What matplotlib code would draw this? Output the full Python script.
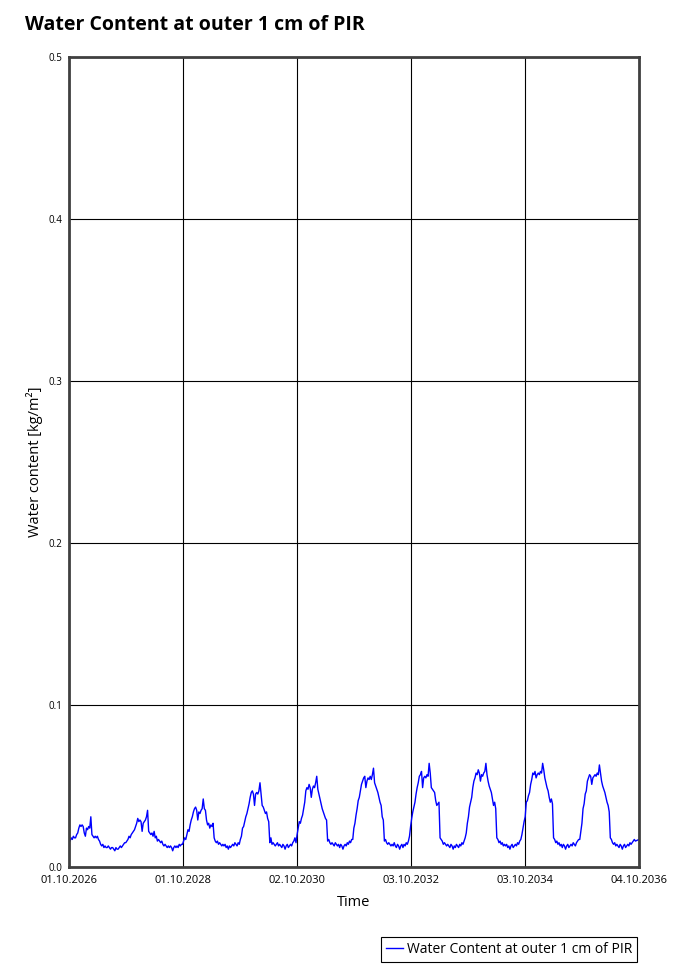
import numpy as np
import pandas as pd
import matplotlib
matplotlib.use("Agg")
import matplotlib.pyplot as plt
import matplotlib.dates as mdates

# weekly water content [kg/m2], one list per season starting 1 Oct
wc_2026 = [0.017, 0.016, 0.018, 0.017, 0.019, 0.018, 0.018, 0.020, 0.021, 0.024, 0.026, 0.025, 0.026,
           0.025, 0.021, 0.019, 0.024, 0.023, 0.025, 0.024, 0.031, 0.020, 0.019, 0.018, 0.019, 0.018,
           0.019, 0.017, 0.016, 0.014, 0.013, 0.014, 0.012, 0.013, 0.012, 0.012, 0.013, 0.012, 0.011,
           0.012, 0.012, 0.011, 0.010, 0.012, 0.011, 0.011, 0.012, 0.013, 0.012, 0.013, 0.014, 0.015]
wc_2027 = [0.015, 0.016, 0.017, 0.019, 0.018, 0.020, 0.021, 0.022, 0.023, 0.025, 0.027, 0.030, 0.028,
           0.029, 0.028, 0.022, 0.027, 0.028, 0.029, 0.031, 0.035, 0.022, 0.021, 0.020, 0.021, 0.019,
           0.022, 0.018, 0.019, 0.016, 0.017, 0.016, 0.015, 0.016, 0.014, 0.013, 0.014, 0.013, 0.012,
           0.013, 0.012, 0.013, 0.012, 0.010, 0.012, 0.013, 0.012, 0.013, 0.012, 0.014, 0.013, 0.014]
wc_2028 = [0.014, 0.016, 0.018, 0.017, 0.020, 0.023, 0.022, 0.026, 0.029, 0.031, 0.034, 0.036, 0.037,
           0.035, 0.029, 0.034, 0.033, 0.035, 0.036, 0.042, 0.036, 0.035, 0.029, 0.026, 0.027, 0.024,
           0.026, 0.025, 0.027, 0.018, 0.016, 0.015, 0.016, 0.014, 0.015, 0.014, 0.013, 0.014, 0.013,
           0.014, 0.012, 0.013, 0.011, 0.013, 0.012, 0.013, 0.014, 0.013, 0.015, 0.014, 0.013, 0.015]
wc_2029 = [0.014, 0.017, 0.019, 0.024, 0.025, 0.028, 0.031, 0.033, 0.036, 0.039, 0.043, 0.046, 0.047,
           0.045, 0.038, 0.045, 0.046, 0.045, 0.047, 0.052, 0.045, 0.038, 0.037, 0.035, 0.033, 0.034,
           0.030, 0.028, 0.015, 0.018, 0.014, 0.015, 0.014, 0.013, 0.014, 0.015, 0.013, 0.014, 0.013,
           0.012, 0.014, 0.013, 0.011, 0.013, 0.014, 0.012, 0.013, 0.014, 0.013, 0.015, 0.016, 0.018]
wc_2030 = [0.015, 0.020, 0.024, 0.028, 0.027, 0.030, 0.032, 0.036, 0.040, 0.047, 0.049, 0.048, 0.051,
           0.049, 0.043, 0.048, 0.050, 0.049, 0.052, 0.056, 0.048, 0.045, 0.042, 0.039, 0.036, 0.034,
           0.032, 0.030, 0.029, 0.016, 0.017, 0.015, 0.014, 0.015, 0.014, 0.013, 0.015, 0.014, 0.013,
           0.014, 0.012, 0.014, 0.013, 0.011, 0.013, 0.014, 0.013, 0.015, 0.014, 0.016, 0.015, 0.017]
wc_2031 = [0.017, 0.024, 0.027, 0.032, 0.036, 0.041, 0.043, 0.047, 0.051, 0.053, 0.055, 0.056, 0.049,
           0.053, 0.055, 0.054, 0.056, 0.054, 0.057, 0.061, 0.052, 0.050, 0.048, 0.046, 0.043, 0.040,
           0.038, 0.031, 0.029, 0.016, 0.017, 0.015, 0.014, 0.015, 0.014, 0.013, 0.014, 0.013, 0.015,
           0.013, 0.012, 0.014, 0.013, 0.011, 0.013, 0.014, 0.012, 0.014, 0.013, 0.015, 0.014, 0.016]
wc_2032 = [0.019, 0.025, 0.030, 0.034, 0.037, 0.040, 0.045, 0.049, 0.052, 0.056, 0.057, 0.059, 0.049,
           0.055, 0.056, 0.055, 0.057, 0.056, 0.064, 0.058, 0.049, 0.048, 0.047, 0.046, 0.041, 0.038,
           0.039, 0.040, 0.018, 0.017, 0.016, 0.014, 0.015, 0.014, 0.013, 0.014, 0.013, 0.012, 0.014,
           0.013, 0.011, 0.013, 0.012, 0.014, 0.013, 0.012, 0.014, 0.013, 0.015, 0.014, 0.016, 0.018]
wc_2033 = [0.021, 0.027, 0.031, 0.037, 0.040, 0.043, 0.049, 0.053, 0.055, 0.058, 0.057, 0.060, 0.058,
           0.053, 0.057, 0.056, 0.058, 0.059, 0.064, 0.057, 0.053, 0.050, 0.048, 0.046, 0.042, 0.038,
           0.040, 0.036, 0.018, 0.017, 0.015, 0.016, 0.014, 0.015, 0.013, 0.014, 0.013, 0.014, 0.012,
           0.013, 0.011, 0.013, 0.014, 0.012, 0.013, 0.014, 0.013, 0.015, 0.014, 0.016, 0.017, 0.020]
wc_2034 = [0.024, 0.028, 0.031, 0.040, 0.041, 0.044, 0.046, 0.051, 0.054, 0.058, 0.057, 0.059, 0.055,
           0.057, 0.058, 0.057, 0.059, 0.058, 0.064, 0.060, 0.055, 0.052, 0.049, 0.047, 0.043, 0.040,
           0.042, 0.039, 0.018, 0.017, 0.015, 0.016, 0.014, 0.015, 0.013, 0.014, 0.012, 0.014, 0.013,
           0.011, 0.013, 0.014, 0.012, 0.013, 0.014, 0.013, 0.015, 0.014, 0.013, 0.015, 0.016, 0.017]
wc_2035 = [0.017, 0.022, 0.027, 0.036, 0.039, 0.045, 0.047, 0.053, 0.055, 0.057, 0.056, 0.051, 0.055,
           0.056, 0.057, 0.056, 0.058, 0.057, 0.063, 0.058, 0.053, 0.050, 0.048, 0.046, 0.043, 0.040,
           0.038, 0.034, 0.018, 0.017, 0.015, 0.014, 0.015, 0.013, 0.014, 0.013, 0.012, 0.014, 0.013,
           0.011, 0.013, 0.014, 0.012, 0.013, 0.014, 0.013, 0.015, 0.014, 0.015, 0.016, 0.017, 0.016]
wc_end = [0.017]

tick_dates = ["2026-10-01", "2028-10-01", "2030-10-02", "2032-10-03", "2034-10-03", "2036-10-04"]
y_ticks = [0.0, 0.1, 0.2, 0.3, 0.4, 0.5]

values = np.array(wc_2026 + wc_2027 + wc_2028 + wc_2029 + wc_2030 +
                  wc_2031 + wc_2032 + wc_2033 + wc_2034 + wc_2035 + wc_end)
dates = pd.date_range("2026-10-01", periods=len(values) - 1, freq="7D")
dates = dates.append(pd.DatetimeIndex([tick_dates[-1]]))

fig = plt.figure(figsize=(6.88, 9.73), dpi=100)
ax = fig.add_axes([69 / 688, 1 - 867 / 973, 570 / 688, 810 / 973])

line, = ax.plot(dates, values, color="#0000ff", linewidth=1.0,
                label="Water Content at outer 1 cm of PIR")

tdates = pd.to_datetime(tick_dates)
ax.set_xlim(tdates[0], tdates[-1])
ax.set_ylim(0, 0.5)
ax.set_xticks(tdates)
ax.xaxis.set_major_formatter(mdates.DateFormatter("%d.%m.%Y"))
ax.set_yticks(y_ticks)
ax.set_yticklabels(["%.1f" % v for v in y_ticks])
ax.grid(True, color="black", linewidth=0.8)
ax.tick_params(axis="both", length=0)
ax.tick_params(axis="x", labelsize=8, pad=6)
ax.tick_params(axis="y", labelsize=7, pad=5)
for lab in ax.get_xticklabels() + ax.get_yticklabels():
    lab.set_family("Open Sans")

for sp in ax.spines.values():
    sp.set_linewidth(2)
    sp.set_color("#404040")

ax.set_xlabel("Time", family="Open Sans", fontsize=10.5, labelpad=6)
ax.set_ylabel("Water content [kg/m²]", family="Open Sans", fontsize=10.5, labelpad=4)

fig.text(25 / 688, 1 - 25 / 973, "Water Content at outer 1 cm of PIR", family="Open Sans",
         fontsize=14, fontweight="bold", va="center", ha="left")

fig.legend(handles=[line], loc="lower right", bbox_to_anchor=(637 / 688, 1 - 962 / 973),
           prop={"family": "Open Sans", "size": 10}, fancybox=False, edgecolor="black",
           framealpha=1, handlelength=1.2, handletextpad=0.3, borderpad=0.35, borderaxespad=0)
fig.legends[0].get_frame().set_linewidth(0.8)

fig.savefig("out.png", dpi=100)
